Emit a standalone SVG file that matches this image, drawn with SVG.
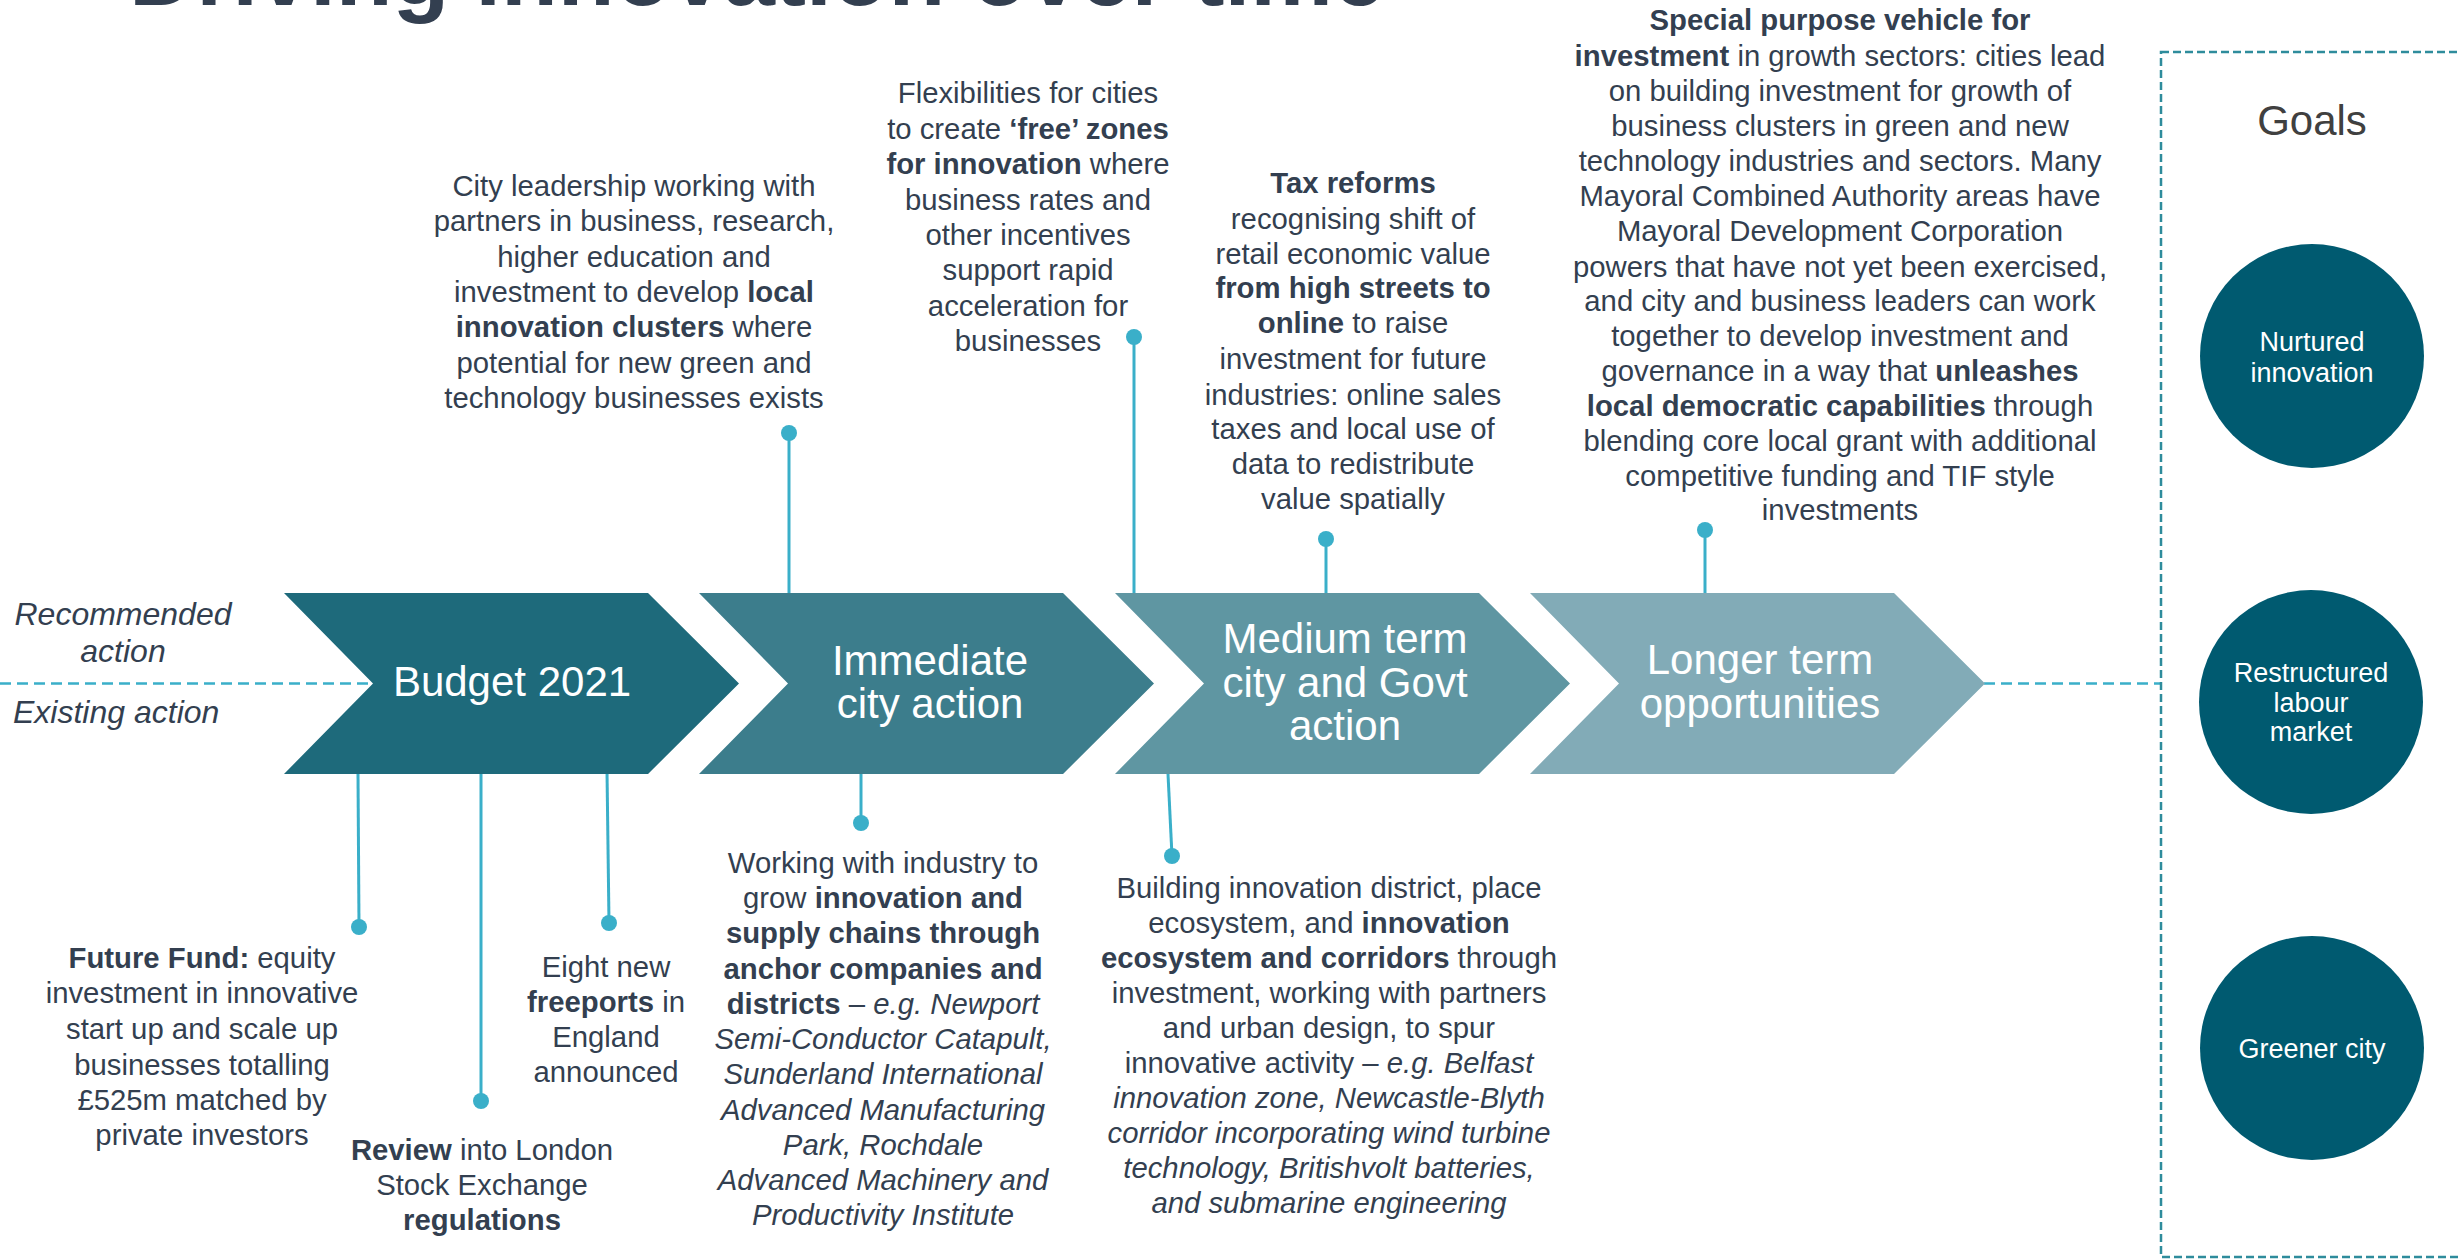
<svg xmlns="http://www.w3.org/2000/svg" width="2458" height="1259" viewBox="0 0 2458 1259">
<style>
.t{font-family:"Liberation Sans",Arial,sans-serif;font-size:29.3px;fill:#333F50;text-anchor:middle}
.b{font-weight:bold}
.i{font-style:italic}
.cv{font-family:"Liberation Sans",Arial,sans-serif;font-size:42px;fill:#FFFFFF;text-anchor:middle}
.gl{font-family:"Liberation Sans",Arial,sans-serif;font-size:27px;fill:#FFFFFF;text-anchor:middle}
.side{font-family:"Liberation Sans",Arial,sans-serif;font-size:32px;fill:#333F50;font-style:italic}
.ln{stroke:#3AAFC9;stroke-width:3;fill:none}
.dot{fill:#3AAFC9}
.dash{stroke:#3AAFC9;stroke-width:2.5;stroke-dasharray:11 6;fill:none}
.goal{fill:#005A70}
</style>
<defs>
<path id="chev" d="M0,593 L364,593 L455,683.5 L364,774 L0,774 L89,683.5 Z"/>
</defs>
<rect width="2458" height="1259" fill="#FFFFFF"/>

<g id="title">
<text x="129" y="5" style="font-family:'Liberation Sans',Arial,sans-serif;font-size:93px;font-weight:bold;fill:#333F50">Driving innovation over time</text>
</g>

<g id="legend">
<text class="side" text-anchor="middle"><tspan x="123" y="625">Recommended</tspan><tspan x="123" y="662">action</tspan></text>
<text class="side" x="13" y="723">Existing action</text>
</g>

<g id="connectors">
<line class="dash" x1="0" y1="683.5" x2="373" y2="683.5"/>
<line class="dash" x1="1984" y1="683.5" x2="2161" y2="683.5"/>
<line class="ln" x1="789" y1="433" x2="789" y2="593"/><circle class="dot" cx="789" cy="433" r="8"/>
<line class="ln" x1="1134" y1="337" x2="1134" y2="593"/><circle class="dot" cx="1134" cy="337" r="8"/>
<line class="ln" x1="1326" y1="539" x2="1326" y2="593"/><circle class="dot" cx="1326" cy="539" r="8"/>
<line class="ln" x1="1705" y1="530" x2="1705" y2="593"/><circle class="dot" cx="1705" cy="530" r="8"/>
<line class="ln" x1="358" y1="774" x2="359" y2="927"/><circle class="dot" cx="359" cy="927" r="8"/>
<line class="ln" x1="481" y1="774" x2="481" y2="1101"/><circle class="dot" cx="481" cy="1101" r="8"/>
<line class="ln" x1="607" y1="771" x2="609" y2="923"/><circle class="dot" cx="609" cy="923" r="8"/>
<line class="ln" x1="861" y1="774" x2="861" y2="823"/><circle class="dot" cx="861" cy="823" r="8"/>
<line class="ln" x1="1168" y1="774" x2="1172" y2="856"/><circle class="dot" cx="1172" cy="856" r="8"/>
</g>

<g id="budget">
<use href="#chev" x="284" fill="#1E6A7B"/>
<text class="cv" x="512" y="696">Budget 2021</text>
</g>
<g id="immediate">
<use href="#chev" x="699" fill="#3C7D8C"/>
<text class="cv"><tspan x="930" y="675">Immediate</tspan><tspan x="930" y="718">city action</tspan></text>
</g>
<g id="medium">
<use href="#chev" x="1115" fill="#5F96A2"/>
<text class="cv"><tspan x="1345" y="653">Medium term</tspan><tspan x="1345" y="697">city and Govt</tspan><tspan x="1345" y="740">action</tspan></text>
</g>
<g id="longer">
<use href="#chev" x="1530" fill="#82ABB7"/>
<text class="cv"><tspan x="1760" y="674">Longer term</tspan><tspan x="1760" y="718">opportunities</tspan></text>
</g>

<g id="city-leadership">
<text class="t"><tspan x="634" y="196">City leadership working with</tspan><tspan x="634" y="231">partners in business, research,</tspan><tspan x="634" y="267">higher education and</tspan><tspan x="634" y="302">investment to develop <tspan class="b">local</tspan></tspan><tspan x="634" y="337"><tspan class="b">innovation clusters</tspan> where</tspan><tspan x="634" y="373">potential for new green and</tspan><tspan x="634" y="408">technology businesses exists</tspan></text>
</g>

<g id="flexibilities">
<text class="t"><tspan x="1028" y="103">Flexibilities for cities</tspan><tspan x="1028" y="139">to create <tspan class="b">‘free’ zones</tspan></tspan><tspan x="1028" y="174"><tspan class="b">for innovation</tspan> where</tspan><tspan x="1028" y="210">business rates and</tspan><tspan x="1028" y="245">other incentives</tspan><tspan x="1028" y="280">support rapid</tspan><tspan x="1028" y="316">acceleration for</tspan><tspan x="1028" y="351">businesses</tspan></text>
</g>

<g id="tax-reforms">
<text class="t"><tspan x="1353" y="193" class="b">Tax reforms</tspan><tspan x="1353" y="229">recognising shift of</tspan><tspan x="1353" y="264">retail economic value</tspan><tspan x="1353" y="298" class="b">from high streets to</tspan><tspan x="1353" y="333"><tspan class="b">online</tspan> to raise</tspan><tspan x="1353" y="369">investment for future</tspan><tspan x="1353" y="405">industries: online sales</tspan><tspan x="1353" y="439">taxes and local use of</tspan><tspan x="1353" y="474">data to redistribute</tspan><tspan x="1353" y="509">value spatially</tspan></text>
</g>

<g id="special-purpose">
<text class="t"><tspan x="1840" y="30" class="b">Special purpose vehicle for</tspan><tspan x="1840" y="66"><tspan class="b">investment</tspan> in growth sectors: cities lead</tspan><tspan x="1840" y="101">on building investment for growth of</tspan><tspan x="1840" y="136">business clusters in green and new</tspan><tspan x="1840" y="171">technology industries and sectors. Many</tspan><tspan x="1840" y="206">Mayoral Combined Authority areas have</tspan><tspan x="1840" y="241">Mayoral Development Corporation</tspan><tspan x="1840" y="277">powers that have not yet been exercised,</tspan><tspan x="1840" y="311">and city and business leaders can work</tspan><tspan x="1840" y="346">together to develop investment and</tspan><tspan x="1840" y="381">governance in a way that <tspan class="b">unleashes</tspan></tspan><tspan x="1840" y="416"><tspan class="b">local democratic capabilities</tspan> through</tspan><tspan x="1840" y="451">blending core local grant with additional</tspan><tspan x="1840" y="486">competitive funding and TIF style</tspan><tspan x="1840" y="520">investments</tspan></text>
</g>

<g id="future-fund">
<text class="t"><tspan x="202" y="968"><tspan class="b">Future Fund:</tspan> equity</tspan><tspan x="202" y="1003">investment in innovative</tspan><tspan x="202" y="1039">start up and scale up</tspan><tspan x="202" y="1075">businesses totalling</tspan><tspan x="202" y="1110">£525m matched by</tspan><tspan x="202" y="1145">private investors</tspan></text>
</g>

<g id="review">
<text class="t"><tspan x="482" y="1160"><tspan class="b">Review</tspan> into London</tspan><tspan x="482" y="1195">Stock Exchange</tspan><tspan x="482" y="1230" class="b">regulations</tspan></text>
</g>

<g id="freeports">
<text class="t"><tspan x="606" y="977">Eight new</tspan><tspan x="606" y="1012"><tspan class="b">freeports</tspan> in</tspan><tspan x="606" y="1047">England</tspan><tspan x="606" y="1082">announced</tspan></text>
</g>

<g id="working-with-industry">
<text class="t"><tspan x="883" y="873">Working with industry to</tspan><tspan x="883" y="908">grow <tspan class="b">innovation and</tspan></tspan><tspan x="883" y="943" class="b">supply chains through</tspan><tspan x="883" y="979" class="b">anchor companies and</tspan><tspan x="883" y="1014"><tspan class="b">districts</tspan> – <tspan class="i">e.g. Newport</tspan></tspan><tspan x="883" y="1049" class="i">Semi-Conductor Catapult,</tspan><tspan x="883" y="1084" class="i">Sunderland International</tspan><tspan x="883" y="1120" class="i">Advanced Manufacturing</tspan><tspan x="883" y="1155" class="i">Park, Rochdale</tspan><tspan x="883" y="1190" class="i">Advanced Machinery and</tspan><tspan x="883" y="1225" class="i">Productivity Institute</tspan></text>
</g>

<g id="building-innovation">
<text class="t"><tspan x="1329" y="898">Building innovation district, place</tspan><tspan x="1329" y="933">ecosystem, and <tspan class="b">innovation</tspan></tspan><tspan x="1329" y="968"><tspan class="b">ecosystem and corridors</tspan> through</tspan><tspan x="1329" y="1003">investment, working with partners</tspan><tspan x="1329" y="1038">and urban design, to spur</tspan><tspan x="1329" y="1073">innovative activity – <tspan class="i">e.g. Belfast</tspan></tspan><tspan x="1329" y="1108" class="i">innovation zone, Newcastle-Blyth</tspan><tspan x="1329" y="1143" class="i">corridor incorporating wind turbine</tspan><tspan x="1329" y="1178" class="i">technology, Britishvolt batteries,</tspan><tspan x="1329" y="1213" class="i">and submarine engineering</tspan></text>
</g>

<g id="goals">
<rect x="2161" y="52" width="320" height="1205" fill="none" stroke="#2E8C9C" stroke-width="2.5" stroke-dasharray="8 4"/>
<text x="2312" y="135" text-anchor="middle" style="font-family:'Liberation Sans',Arial,sans-serif;font-size:42px;fill:#404040">Goals</text>
</g>
<g id="goal-nurtured-innovation">
<circle class="goal" cx="2312" cy="356" r="112"/>
<text class="gl"><tspan x="2312" y="351">Nurtured</tspan><tspan x="2312" y="382">innovation</tspan></text>
</g>
<g id="goal-restructured-labour-market">
<circle class="goal" cx="2311" cy="702" r="112"/>
<text class="gl"><tspan x="2311" y="682">Restructured</tspan><tspan x="2311" y="712">labour</tspan><tspan x="2311" y="741">market</tspan></text>
</g>
<g id="goal-greener-city">
<circle class="goal" cx="2312" cy="1048" r="112"/>
<text class="gl" x="2312" y="1058">Greener city</text>
</g>
</svg>
